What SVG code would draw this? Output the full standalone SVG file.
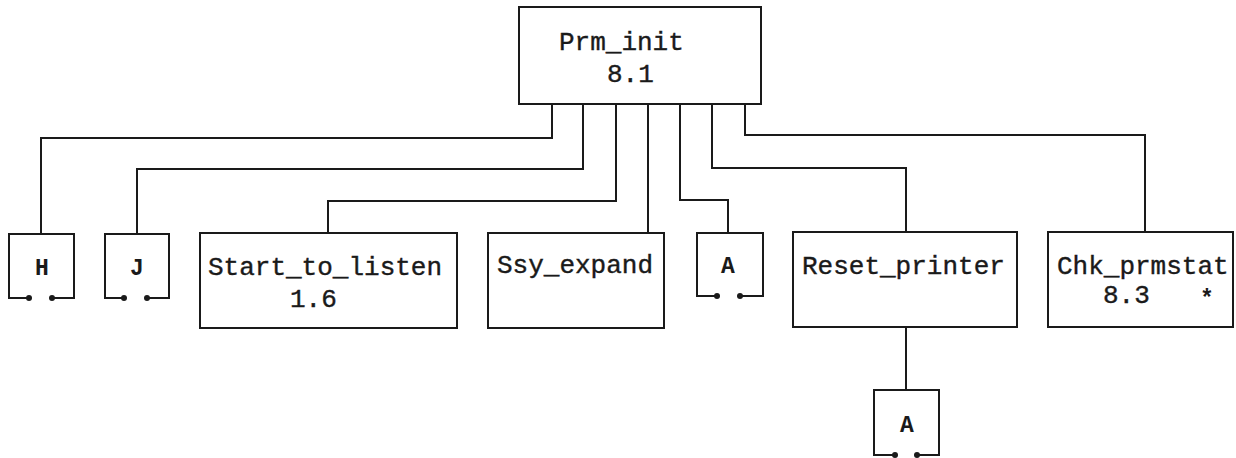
<svg xmlns="http://www.w3.org/2000/svg" width="1236" height="458" viewBox="0 0 1236 458">
<style>
.box{fill:#fff;stroke:#1a1a1a;stroke-width:2}
.conn{fill:none;stroke:#1a1a1a;stroke-width:2}
.off{fill:none;stroke:#1a1a1a;stroke-width:2}
.dot{fill:#1a1a1a}
.t{font-family:"Liberation Mono","Courier New",monospace;font-size:26px;fill:#1a1a1a;stroke:#1a1a1a;stroke-width:0.4}
.s{font-family:"Liberation Mono","Courier New",monospace;font-size:23px;font-weight:bold;fill:#1a1a1a;text-anchor:middle}
</style>
<rect width="1236" height="458" fill="#fff"/>
<g id="connectors">
<path class="conn" d="M552,104 V138 H41 V234"/>
<path class="conn" d="M583,104 V169 H137 V234"/>
<path class="conn" d="M616,104 V201 H328 V233"/>
<path class="conn" d="M648,104 V233"/>
<path class="conn" d="M680,104 V200 H728 V233"/>
<path class="conn" d="M712,104 V168 H906 V232"/>
<path class="conn" d="M745,104 V135 H1145 V232"/>
<path class="conn" d="M906,327 V390"/>
</g>
<g id="prm_init">
<rect class="box" x="519" y="7" width="242" height="97"/>
<text class="t" x="559" y="50">Prm_init</text>
<text class="t" x="607" y="82">8.1</text>
</g>
<g id="offpage_h">
<path class="off" d="M29,298 H9 V234 H74 V298 H52"/>
<circle class="dot" cx="29" cy="298" r="3"/><circle class="dot" cx="52" cy="298" r="3"/>
<text class="s" x="42" y="275">H</text>
</g>
<g id="offpage_j">
<path class="off" d="M124,298 H105 V234 H169 V298 H147"/>
<circle class="dot" cx="124" cy="298" r="3"/><circle class="dot" cx="147" cy="298" r="3"/>
<text class="s" x="137" y="275">J</text>
</g>
<g id="start_to_listen">
<rect class="box" x="200" y="233" width="257" height="95"/>
<text class="t" x="208" y="275">Start_to_listen</text>
<text class="t" x="290" y="307">1.6</text>
</g>
<g id="ssy_expand">
<rect class="box" x="488" y="233" width="176" height="95"/>
<text class="t" x="497" y="273">Ssy_expand</text>
</g>
<g id="offpage_a1">
<path class="off" d="M717,296 H697 V233 H763 V296 H740"/>
<circle class="dot" cx="717" cy="296" r="3"/><circle class="dot" cx="740" cy="296" r="3"/>
<text class="s" x="728" y="273">A</text>
</g>
<g id="reset_printer">
<rect class="box" x="793" y="232" width="224" height="95"/>
<text class="t" x="802" y="274">Reset_printer</text>
</g>
<g id="chk_prmstat">
<rect class="box" x="1048" y="232" width="185" height="95"/>
<text class="t" x="1057" y="274">Chk_prmstat</text>
<text class="t" x="1103" y="303">8.3</text>
<text class="s" x="1207" y="306">*</text>
</g>
<g id="offpage_a2">
<path class="off" d="M895,455 H874 V390 H939 V455 H917"/>
<circle class="dot" cx="895" cy="455" r="3"/><circle class="dot" cx="917" cy="455" r="3"/>
<text class="s" x="907" y="432">A</text>
</g>
</svg>
